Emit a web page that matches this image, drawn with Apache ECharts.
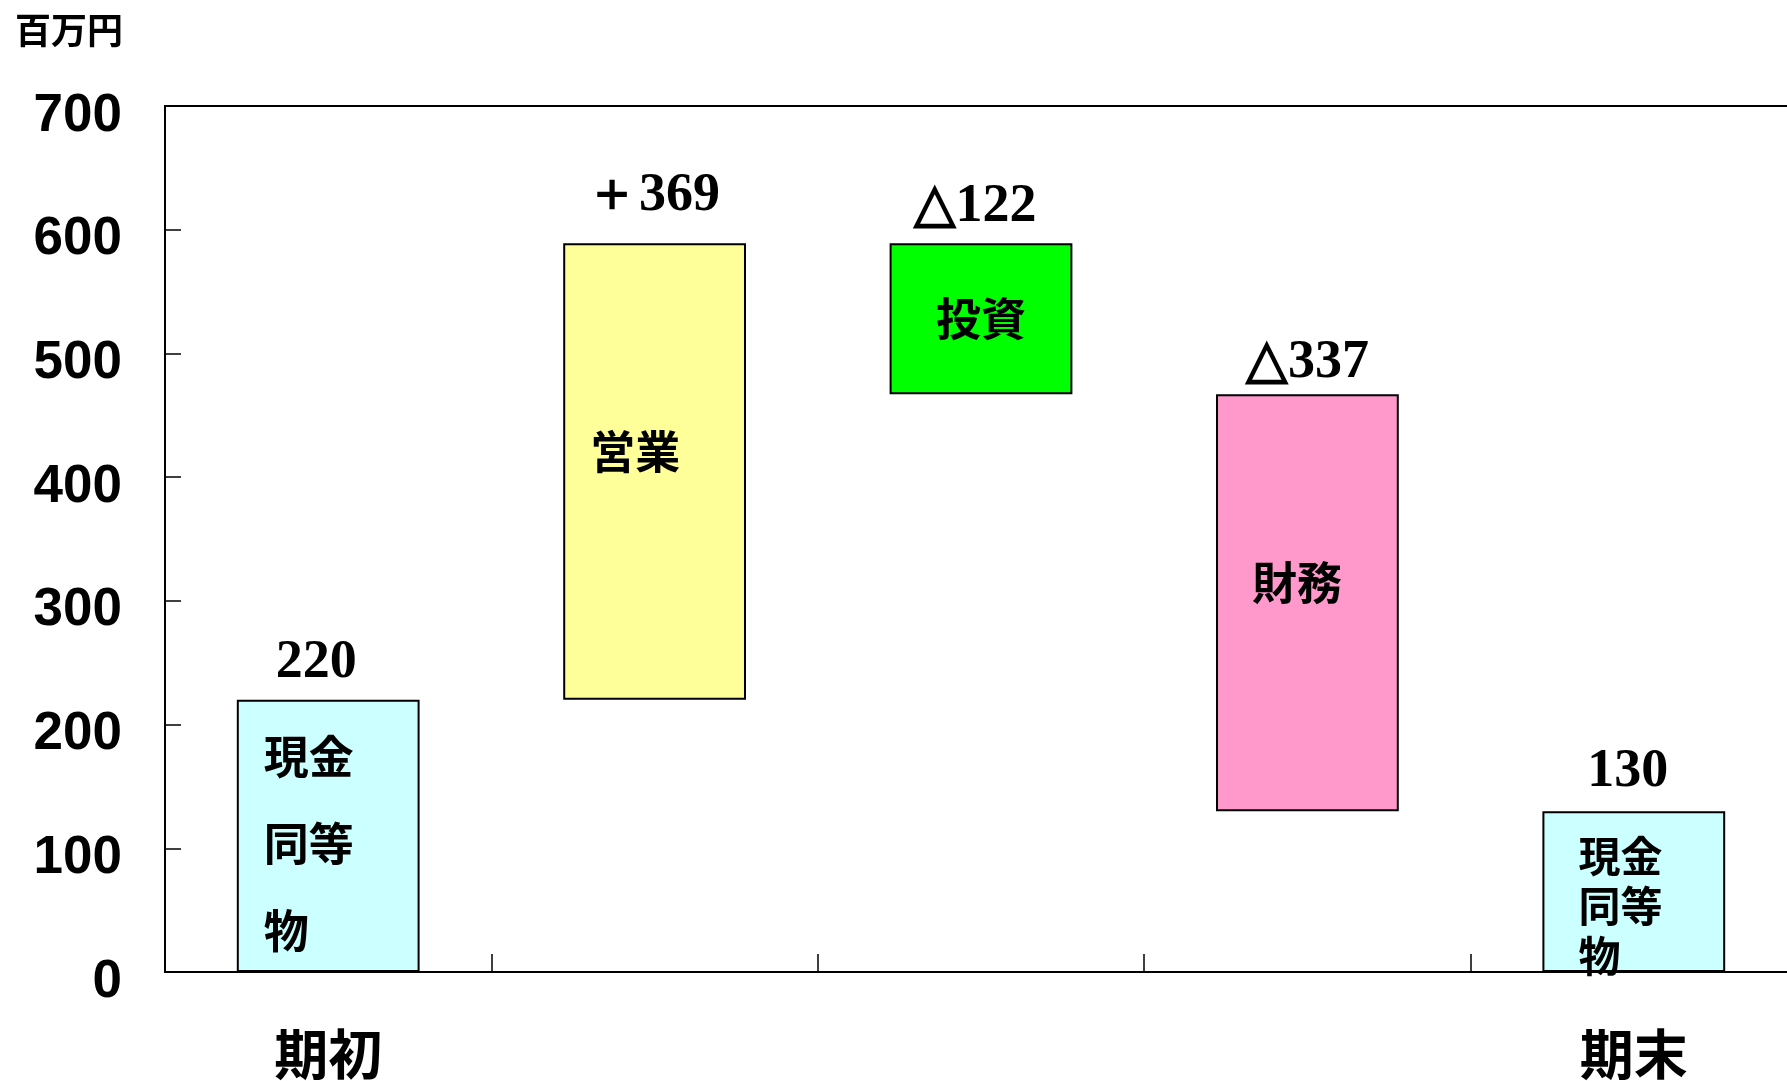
<!DOCTYPE html>
<html>
<head>
<meta charset="utf-8">
<script src="https://cdn.jsdelivr.net/npm/echarts@6/dist/echarts.min.js"></script>
<style>
  html, body { margin: 0; padding: 0; background: #fff; }
  #chart { width: 1787px; height: 1081px; }
</style>
</head>
<body>
<div id="chart"></div>
<script>
// waterfall: invisible base + visible step
var categories = ['期初', '', '', '', '期末'];
var baseValues = [0, 220, 467, 130, 0];
var stepValues = [220, 369, 122, 337, 130];
var barNames = ['現金\n同等\n物', '営業', '投資', '財務', '現金\n同等\n物'];
var topLabels = ['220', '＋369', '△122', '△337', '130'];
var yTicks = [0, 700, 100]; // min, max, interval

(function() {
  var chart = echarts.init(document.getElementById('chart'), null, { renderer: 'canvas' });
  var jp = '"Noto Sans CJK JP", sans-serif';
  var colors = ['#ccffff', '#ffff99', '#00ff00', '#ff99cc', '#ccffff'];

  // label placement inside each bar
  var innerLabel = [
    { position: [27, 14], fontSize: 45, lineHeight: 87 },
    { position: [27, 209], verticalAlign: 'middle', fontSize: 45 },
    { position: 'inside', fontSize: 45 },
    { position: [36, 189], verticalAlign: 'middle', fontSize: 45 },
    { position: [36, 20], fontSize: 42, lineHeight: 50 }
  ];
  var topOffset = [[-12, 2], [-2, -8], [-6, 3], [0, 8], [-6, 0]];

  var stepData = stepValues.map(function(v, i) {
    return {
      value: v,
      itemStyle: { color: colors[i] },
      label: Object.assign({
        show: true,
        formatter: barNames[i],
        color: '#000',
        fontFamily: jp,
        fontWeight: 'bold'
      }, innerLabel[i])
    };
  });

  var topData = stepValues.map(function(v, i) {
    return {
      value: baseValues[i] + v,
      label: { offset: topOffset[i] }
    };
  });

  chart.setOption({
    animation: false,
    backgroundColor: '#fff',
    grid: {
      left: 165, top: 106, width: 1632, height: 866,
      outerBoundsMode: 'none', containLabel: false,
      show: true, borderColor: '#000', borderWidth: 2, backgroundColor: 'transparent'
    },
    graphic: [{
      type: 'text', left: 15, top: 12,
      style: { text: '百万円', font: 'bold 36px "Noto Sans CJK JP", sans-serif', fill: '#000' }
    }],
    xAxis: {
      type: 'category',
      data: categories,
      axisLine: { lineStyle: { color: '#000', width: 2 } },
      axisTick: { show: true, inside: true, length: 18, lineStyle: { color: '#000', width: 1.5 } },
      axisLabel: {
        interval: 0, color: '#000', fontSize: 54, fontWeight: 'bold',
        fontFamily: jp, margin: 55
      },
      splitLine: { show: false }
    },
    yAxis: {
      type: 'value',
      min: yTicks[0], max: yTicks[1], interval: yTicks[2],
      axisLine: { show: true, lineStyle: { color: '#000', width: 2 } },
      axisTick: { show: true, inside: true, length: 16, lineStyle: { color: '#000', width: 1.5 } },
      axisLabel: {
        color: '#000', fontSize: 53, fontWeight: 'bold',
        fontFamily: '"Liberation Sans", Arial, sans-serif', margin: 43,
        verticalAlign: 'top', lineHeight: 20
      },
      splitLine: { show: false }
    },
    series: [
      {
        type: 'bar', stack: 'w', barWidth: '56%', silent: true,
        itemStyle: { color: 'transparent' },
        data: baseValues
      },
      {
        type: 'bar', stack: 'w', barWidth: '56%',
        itemStyle: { borderColor: '#000', borderWidth: 2 },
        data: stepData
      },
      {
        type: 'scatter', symbolSize: 0, silent: true,
        itemStyle: { opacity: 1 },
        label: {
          show: true, position: 'top', distance: 12,
          formatter: function(p) { return topLabels[p.dataIndex]; },
          color: '#000', fontSize: 54, fontWeight: 'bold',
          fontFamily: '"Liberation Serif", "Times New Roman", serif'
        },
        data: topData
      }
    ]
  });

  window.addEventListener('resize', function() { chart.resize(); });
})();
</script>
</body>
</html>
